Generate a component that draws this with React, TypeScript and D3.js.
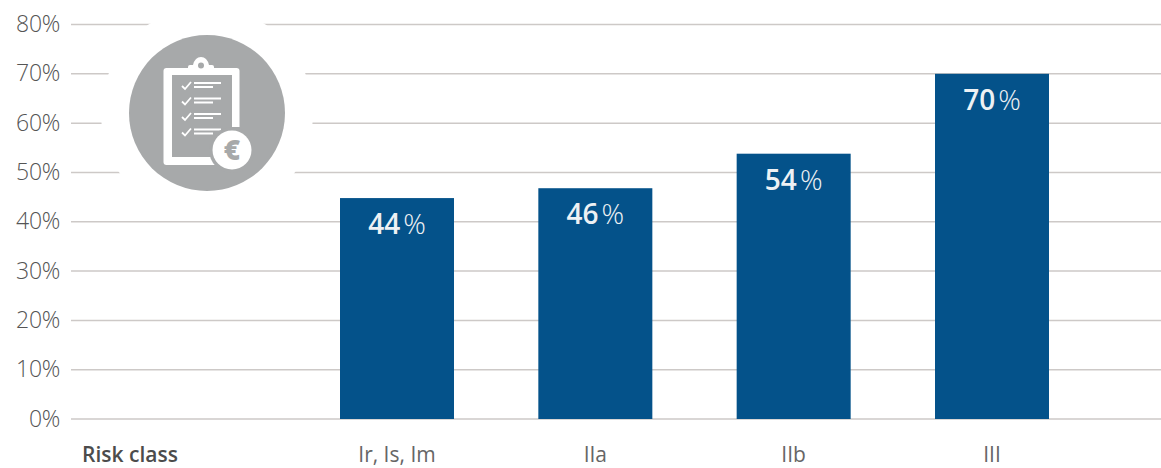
import React from "react";
import * as d3 from "d3";

const categories = ["Ir, Is, Im", "IIa", "IIb", "III"];
const barValues = [44.8, 46.8, 53.8, 70];
const barLabels = ["44", "46", "54", "70"];
const yTicks = [0, 10, 20, 30, 40, 50, 60, 70, 80];
const axisTitle = "Risk class";
const checkRows = [0, 1, 2, 3];

const W = 1161;
const H = 468;
const FONT = "'Open Sans', Lato, sans-serif";

function Icon() {
  const gray = "#a7a9aa";
  return (
    <g>
      <circle cx={207} cy={113} r={106} fill="#fff" />
      <circle cx={207} cy={113} r={78} fill={gray} />
      <rect x={163.5} y={68} width={76} height={97} rx={3} fill="#fff" />
      <rect x={172} y={75} width={60} height={82} fill={gray} />
      <rect x={232} y={127} width={9} height={40} fill={gray} />
      <path d="M188 74 V67 Q188 65 190 65 H193 Q195 57 201 57 Q207 57 209 65 H212 Q214 65 214 67 V74 Z" fill="#fff" />
      <circle cx={201} cy={65.5} r={3} fill={gray} />
      {checkRows.map((i) => {
        const y = 85 + i * 15.5;
        return (
          <g key={i}>
            <path d={`M182 ${y + 1} l3 3 l6 -7`} fill="none" stroke="#fff" strokeWidth={1.8} />
            <rect x={194} y={y - 3} width={27} height={2} fill="#fff" />
            <rect x={194} y={y + 1} width={19} height={2} fill="#fff" />
          </g>
        );
      })}
      <circle cx={232} cy={150} r={23} fill={gray} />
      <circle cx={232} cy={150} r={19.5} fill="#fff" />
      <text x={232} y={160} textAnchor="middle" fontFamily={FONT} fontWeight={800} fontSize={28} fill={gray}>€</text>
    </g>
  );
}

export default function App() {
  const y = d3.scaleLinear().domain([0, 80]).range([419, 24.5]);
  const x = d3.scaleBand().domain(categories).range([340, 1049]).paddingInner(0.4252).paddingOuter(0);
  const bw = x.bandwidth();
  return (
    <svg width={W} height={H} viewBox={`0 0 ${W} ${H}`} style={{ position: "absolute", left: 0, top: 0, background: "#fff" }}>
      {yTicks.map((t) => (
        <g key={t}>
          <line x1={71} x2={W} y1={y(t)} y2={y(t)} stroke="#cdc9c7" strokeWidth={1.5} />
          <text x={60} y={y(t) + 7.5} textAnchor="end" fontFamily={FONT} fontWeight={300} fontSize={23} letterSpacing={-0.3} fill="#555555">{t}%</text>
        </g>
      ))}
      <Icon />
      {categories.map((c, i) => (
        <g key={c}>
          <rect x={x(c)!} y={y(barValues[i])} width={bw} height={y(0) - y(barValues[i])} fill="#04528a" />
          <text x={x(c)! + bw / 2} y={y(barValues[i]) + 36} textAnchor="middle" fontFamily={FONT} fontSize={28} fill="#eef1f4" fontWeight={600}>
            {barLabels[i]}
            <tspan fontWeight={300} dx={3}>%</tspan>
          </text>
          <text x={x(c)! + bw / 2} y={462} textAnchor="middle" fontFamily={FONT} fontWeight={400} fontSize={21} fill="#666666">{c}</text>
        </g>
      ))}
      <text x={82} y={462} fontFamily={FONT} fontWeight={600} fontSize={21} fill="#4c4c4c">{axisTitle}</text>
    </svg>
  );
}
